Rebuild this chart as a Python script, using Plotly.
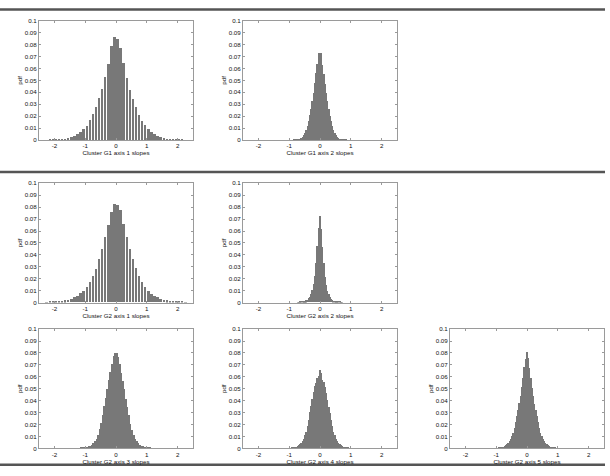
import plotly.graph_objects as go

# bin layout of each histogram: centre of the first bin and bin width
g1_ax1_start, g1_ax1_width = -2.25, 0.1
g2_ax1_start, g2_ax1_width = -2.25, 0.1
g2_ax3_start, g2_ax3_width = -1.175, 0.05
g1_ax2_start, g1_ax2_width = -0.88, 0.04
g2_ax2_start, g2_ax2_width = -0.72, 0.04
g2_ax4_start, g2_ax4_width = -0.92, 0.04
g2_ax5_start, g2_ax5_width = -0.92, 0.04

# pdf per bin (left to right)
g1_ax1 = [0.0001, 0.0002, 0.0003, 0.0005, 0.0007, 0.0010, 0.0014, 0.0020, 0.0027, 0.0037,
          0.0050, 0.0068, 0.0090, 0.0120, 0.0170, 0.0220, 0.0280, 0.0350, 0.0430, 0.0530,
          0.0640, 0.0790, 0.0865,
          0.0850, 0.0775, 0.0650, 0.0520, 0.0425, 0.0345, 0.0275, 0.0215, 0.0165, 0.0125,
          0.0092, 0.0066, 0.0049, 0.0036, 0.0026, 0.0019, 0.0013, 0.0009, 0.0006, 0.0004,
          0.0003, 0.0002, 0.0001]

g2_ax1 = [0.0001, 0.0002, 0.0004, 0.0006, 0.0008, 0.0012, 0.0016, 0.0022, 0.0030, 0.0040,
          0.0055, 0.0075, 0.0095, 0.0125, 0.0170, 0.0220, 0.0280, 0.0360, 0.0450, 0.0550,
          0.0650, 0.0760, 0.0825,
          0.0815, 0.0770, 0.0660, 0.0550, 0.0445, 0.0360, 0.0285, 0.0220, 0.0170, 0.0125,
          0.0095, 0.0072, 0.0053, 0.0040, 0.0029, 0.0021, 0.0015, 0.0011, 0.0008, 0.0005,
          0.0003, 0.0002, 0.0001]

g2_ax3 = [0.0001, 0.0002, 0.0003, 0.0005, 0.0008, 0.0011, 0.0016, 0.0022, 0.0031, 0.0043,
          0.0060, 0.0080, 0.0110, 0.0160, 0.0210, 0.0280, 0.0350, 0.0420, 0.0500, 0.0570,
          0.0640, 0.0710, 0.0770, 0.0800,
          0.0795, 0.0765, 0.0705, 0.0635, 0.0565, 0.0495, 0.0415, 0.0345, 0.0275, 0.0205,
          0.0155, 0.0108, 0.0079, 0.0058, 0.0042, 0.0030, 0.0021, 0.0015, 0.0011, 0.0007,
          0.0005, 0.0003, 0.0002, 0.0001]

g1_ax2 = [0.0001, 0.0002, 0.0003, 0.0005, 0.0007, 0.0010, 0.0014, 0.0020, 0.0028, 0.0040,
          0.0060, 0.0085, 0.0120, 0.0160, 0.0210, 0.0260, 0.0330, 0.0400, 0.0480, 0.0560,
          0.0640, 0.0735,
          0.0690,
          0.0730, 0.0635, 0.0555, 0.0475, 0.0395, 0.0325, 0.0258, 0.0205, 0.0158, 0.0118,
          0.0083, 0.0058, 0.0040, 0.0028, 0.0019, 0.0013, 0.0009, 0.0006, 0.0004, 0.0003,
          0.0002, 0.0001]

g2_ax2 = [0.0001, 0.0001, 0.0002, 0.0003, 0.0005, 0.0007, 0.0010, 0.0015, 0.0022, 0.0032,
          0.0047, 0.0068, 0.0100, 0.0150, 0.0220, 0.0330, 0.0470, 0.0620,
          0.0720,
          0.0615, 0.0465, 0.0325, 0.0215, 0.0148, 0.0098, 0.0066, 0.0046, 0.0031, 0.0021,
          0.0014, 0.0010, 0.0007, 0.0005, 0.0003, 0.0002, 0.0001, 0.0001]

g2_ax4 = [0.0002, 0.0003, 0.0005, 0.0008, 0.0012, 0.0017, 0.0024, 0.0033, 0.0045, 0.0060,
          0.0080, 0.0110, 0.0140, 0.0190, 0.0240, 0.0300, 0.0350, 0.0410, 0.0470, 0.0520,
          0.0550, 0.0590, 0.0610,
          0.0660,
          0.0630, 0.0570, 0.0555, 0.0515, 0.0465, 0.0405, 0.0345, 0.0295, 0.0235, 0.0185,
          0.0138, 0.0108, 0.0078, 0.0058, 0.0044, 0.0032, 0.0023, 0.0016, 0.0011, 0.0007,
          0.0005, 0.0003, 0.0002]

g2_ax5 = [0.0002, 0.0004, 0.0006, 0.0009, 0.0013, 0.0018, 0.0025, 0.0034, 0.0045, 0.0060,
          0.0078, 0.0100, 0.0130, 0.0170, 0.0220, 0.0270, 0.0320, 0.0380, 0.0440, 0.0510,
          0.0590, 0.0680, 0.0750,
          0.0810,
          0.0755, 0.0675, 0.0585, 0.0505, 0.0435, 0.0375, 0.0318, 0.0268, 0.0218, 0.0168,
          0.0128, 0.0099, 0.0077, 0.0059, 0.0044, 0.0033, 0.0024, 0.0017, 0.0012, 0.0008,
          0.0006, 0.0004, 0.0002]

x_tick_vals = [-2, -1, 0, 1, 2]
x_tick_text = ['-2', '-1', '0', '1', '2']
y_tick_vals = [0, 0.01, 0.02, 0.03, 0.04, 0.05, 0.06, 0.07, 0.08, 0.09, 0.1]
y_tick_text = ['0', '0.01', '0.02', '0.03', '0.04', '0.05', '0.06', '0.07', '0.08', '0.09', '0.1']

W, H = 610, 476

# (values, first bin, bin width, bar fraction, title, left px, top px)
panels = [
    (g1_ax1, g1_ax1_start, g1_ax1_width, 0.8, 'Cluster G1 axis 1 slopes', 39, 17),
    (g1_ax2, g1_ax2_start, g1_ax2_width, 1.0, 'Cluster G1 axis 2 slopes', 243, 17),
    (g2_ax1, g2_ax1_start, g2_ax1_width, 0.8, 'Cluster G2 axis 1 slopes', 39, 182),
    (g2_ax2, g2_ax2_start, g2_ax2_width, 1.0, 'Cluster G2 axis 2 slopes', 243, 182),
    (g2_ax3, g2_ax3_start, g2_ax3_width, 0.88, 'Cluster G2 axis 3 slopes', 39, 330),
    (g2_ax4, g2_ax4_start, g2_ax4_width, 1.0, 'Cluster G2 axis 4 slopes', 243, 330),
    (g2_ax5, g2_ax5_start, g2_ax5_width, 1.0, 'Cluster G2 axis 5 slopes', 450, 330),
]
box_w, box_h = 154, 121

font_name = 'Liberation Sans, Arial, sans-serif'
axis_grey = '#9a9a9a'
text_col = '#111111'

fig = go.Figure()
layout = dict()

for i, (vals, start, width, frac, title, left, top) in enumerate(panels):
    n = '' if i == 0 else str(i + 1)
    fig.add_trace(go.Bar(
        y=vals, x0=start, dx=width, width=width * frac,
        marker=dict(color='#787878', line=dict(width=0)),
        xaxis='x' + n, yaxis='y' + n, showlegend=False, hoverinfo='skip'))

    common = dict(showline=True, linecolor=axis_grey, linewidth=1, mirror='allticks',
                  ticks='inside', ticklen=2, tickcolor=axis_grey, showgrid=False,
                  zeroline=False, tickfont=dict(family=font_name, size=6.2, color=text_col))
    xa = dict(common)
    xa.update(domain=[left / W, (left + box_w) / W], range=[-2.5, 2.5],
              tickvals=x_tick_vals, ticktext=x_tick_text, anchor='y' + n,
              title=dict(text=title, standoff=0,
                         font=dict(family=font_name, size=6.2, color=text_col)))
    ya = dict(common)
    ya.update(domain=[1 - (top + box_h) / H, 1 - top / H], range=[0, 0.1],
              tickvals=y_tick_vals, ticktext=y_tick_text, anchor='x' + n,
              title=dict(text='pdf', standoff=1,
                         font=dict(family=font_name, size=6.2, color=text_col)))
    layout['xaxis' + n] = xa
    layout['yaxis' + n] = ya

fig.update_layout(**layout)

# dark separator rules between the figure rows
for y_px in [5.5, 170.5, 467.5]:
    fig.add_shape(type='line', xref='paper', yref='paper',
                  x0=0, x1=605 / W, y0=1 - y_px / H, y1=1 - y_px / H,
                  line=dict(color='#555555', width=2.5))

fig.update_layout(width=W, height=H, margin=dict(l=0, r=0, t=0, b=0),
                  paper_bgcolor='white', plot_bgcolor='white', bargap=0)

# the page body has a default 8px margin, drop it so the figure sits at 0,0
fig.write_html('out.html', config={'displayModeBar': False},
               post_script="document.body.style.margin = '0';")
